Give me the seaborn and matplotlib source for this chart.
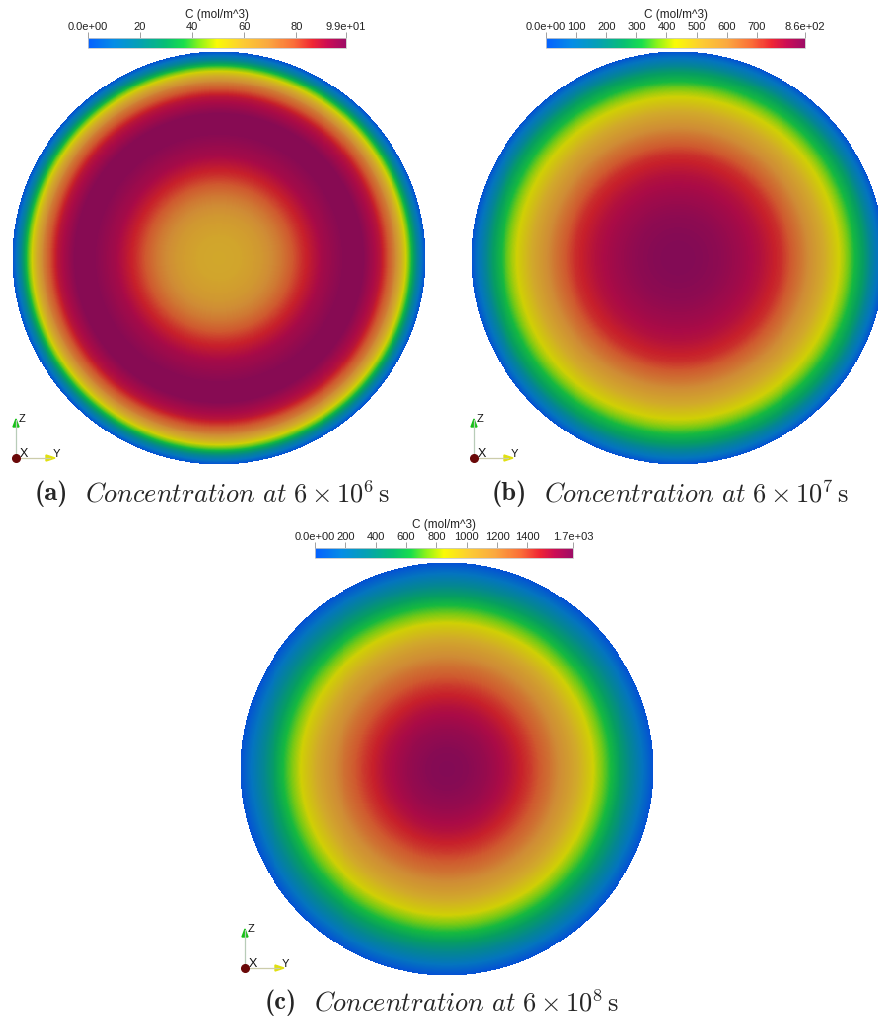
import os
import numpy as np
import pandas as pd
import matplotlib
matplotlib.use("Agg")
import matplotlib.pyplot as plt
import seaborn as sns
from matplotlib.colors import LinearSegmentedColormap, Normalize
from matplotlib.font_manager import FontProperties
import matplotlib.colorbar as mcolorbar

sns.set_theme(style="white")
plt.rcParams['font.family'] = ['Liberation Sans', 'DejaVu Sans']
plt.rcParams['mathtext.fontset'] = 'cm'

# ---- data: radial concentration profiles (r normalised 0 centre .. 1 rim) ----
r_a = [0.0, 0.1, 0.2, 0.3, 0.4, 0.5, 0.6, 0.7, 0.78, 0.85, 0.9, 0.93, 0.96, 0.98, 1.0]
c_a = [60, 61, 65, 73, 84, 93, 98, 98, 89, 72, 52, 38, 20, 10, 0]

r_b = [0.0, 0.1, 0.2, 0.3, 0.4, 0.5, 0.6, 0.7, 0.8, 0.85, 0.9, 0.95, 0.98, 1.0]
c_b = [860, 856, 843, 817, 783, 731, 636, 525, 404, 327, 249, 129, 60, 0]

r_c = [0.0, 0.1, 0.2, 0.3, 0.4, 0.5, 0.6, 0.7, 0.8, 0.9, 1.0]
c_c = [1700, 1683, 1632, 1547, 1428, 1275, 1088, 867, 612, 323, 0]

vmax = [99, 860, 1700]
ticks_a = [0, 20, 40, 60, 80, 99]
labels_a = ["0.0e+00", "20", "40", "60", "80", "9.9e+01"]
ticks_b = [0, 100, 200, 300, 400, 500, 600, 700, 860]
labels_b = ["0.0e+00", "100", "200", "300", "400", "500", "600", "700", "8.6e+02"]
ticks_c = [0, 200, 400, 600, 800, 1000, 1200, 1400, 1700]
labels_c = ["0.0e+00", "200", "400", "600", "800", "1000", "1200", "1400", "1.7e+03"]
cap_tags = ["(a)", "(b)", "(c)"]
cap_texts = [r"$\mathit{Concentration\ at}\ 6\times10^{6}\,\mathrm{s}$",
             r"$\mathit{Concentration\ at}\ 6\times10^{7}\,\mathrm{s}$",
             r"$\mathit{Concentration\ at}\ 6\times10^{8}\,\mathrm{s}$"]

# ---- colormap (ParaView-like rainbow) ----
stops = [0.0, 0.10, 0.20, 0.30, 0.37, 0.43, 0.50, 0.60, 0.70, 0.80, 0.87, 0.93, 1.0]
cols = [(0.02, 0.38, 1.0), (0.02, 0.55, 0.90), (0.02, 0.63, 0.70), (0.03, 0.75, 0.45),
        (0.10, 0.87, 0.30), (0.55, 0.95, 0.10), (0.98, 0.98, 0.02), (0.99, 0.80, 0.20),
        (0.98, 0.66, 0.25), (0.98, 0.42, 0.22), (0.94, 0.15, 0.20), (0.80, 0.05, 0.33),
        (0.62, 0.05, 0.40)]
cmap_bar = LinearSegmentedColormap.from_list("pv", list(zip(stops, cols)))
shade = 0.83
cmap_disk = LinearSegmentedColormap.from_list(
    "pvs", list(zip(stops, [tuple(shade * v for v in c) for c in cols])))

W, H = 879, 1023
fig = plt.figure(figsize=(W / 100, H / 100), dpi=100)


def rect(x, y, w, h):
    return [x / W, 1 - (y + h) / H, w / W, h / H]


N = 420
g = np.linspace(-1, 1, N)
XX, YY = np.meshgrid(g, g)
RR = np.sqrt(XX ** 2 + YY ** 2)

panels = [
    dict(r=r_a, c=c_a, vmax=vmax[0], cx=219, cy=258, rad=207, bar=(88, 38, 258, 10),
         ticks=ticks_a, labels=labels_a, capxy=(212, 494), triad=(16, 458)),
    dict(r=r_b, c=c_b, vmax=vmax[1], cx=678, cy=258, rad=207, bar=(546, 38, 259, 10),
         ticks=ticks_b, labels=labels_b, capxy=(670, 494), triad=(474, 458)),
    dict(r=r_c, c=c_c, vmax=vmax[2], cx=447, cy=769, rad=207, bar=(315, 548, 258, 10),
         ticks=ticks_c, labels=labels_c, capxy=(442, 1003), triad=(245, 968)),
]

bold_fp = FontProperties(fname=os.path.join(matplotlib.get_data_path(), "fonts", "ttf", "cmb10.ttf"),
                         size=19)
renderer = fig.canvas.get_renderer()

for i, p in enumerate(panels):
    field = np.interp(RR, p["r"], p["c"])
    df = pd.DataFrame(field)
    mask = RR > 1.0
    ax = fig.add_axes(rect(p["cx"] - p["rad"], p["cy"] - p["rad"], 2 * p["rad"], 2 * p["rad"]))
    sns.heatmap(df, mask=mask, cmap=cmap_disk, vmin=0, vmax=p["vmax"], cbar=False,
                xticklabels=False, yticklabels=False, ax=ax, rasterized=True)
    ax.axis("off")

    bx, by, bw, bh = p["bar"]
    cax = fig.add_axes(rect(bx, by, bw, bh))
    cb = mcolorbar.ColorbarBase(cax, cmap=cmap_bar, norm=Normalize(0, p["vmax"]),
                                orientation="horizontal")
    cb.set_ticks(p["ticks"])
    cb.set_ticklabels(p["labels"])
    cax.xaxis.set_ticks_position("top")
    cax.xaxis.set_label_position("top")
    cax.tick_params(axis="x", direction="out", length=4, width=0.6, color="#909090",
                    labelsize=8, pad=0.5, labelcolor="#222222")
    cb.outline.set_edgecolor("#c8c8c8")
    cb.outline.set_linewidth(0.6)
    cax.set_xlabel("C (mol/m^3)", fontsize=8.5, labelpad=2.5, color="#222222")

    # caption: bold tag + math text, centred as a group
    cx, cy = p["capxy"]
    t1 = fig.text(0, 1 - cy / H, cap_tags[i], fontproperties=bold_fp, ha="left", va="center")
    t2 = fig.text(0, 1 - cy / H, cap_texts[i], fontsize=19, ha="left", va="center")
    w1 = t1.get_window_extent(renderer).width
    w2 = t2.get_window_extent(renderer).width
    gap = 17
    total = w1 + gap + w2
    x0 = cx - total / 2
    t1.set_x(x0 / W)
    t2.set_x((x0 + w1 + gap) / W)

# orientation triads
ov = fig.add_axes([0, 0, 1, 1], facecolor="none")
ov.set_xlim(0, W)
ov.set_ylim(H, 0)
ov.axis("off")
for p in panels:
    ox, oy = p["triad"]
    ov.plot([ox, ox], [oy, oy - 38], color="#b8ccb8", lw=0.9)
    ov.plot([ox, ox + 34], [oy, oy], color="#ccccaa", lw=0.9)
    ov.add_patch(plt.Polygon([[ox - 3, oy - 31], [ox + 3, oy - 31], [ox, oy - 39]],
                             color="#18c018"))
    ov.add_patch(plt.Polygon([[ox + 30, oy - 3], [ox + 30, oy + 3], [ox + 39, oy]],
                             color="#e0e010"))
    ov.plot([ox], [oy], "o", color="#6a0808", ms=5.5)
    ov.text(ox + 3, oy - 39, "Z", fontsize=8, ha="left", va="center", color="#111111")
    ov.text(ox + 37, oy - 4, "Y", fontsize=8, ha="left", va="center", color="#111111")
    ov.text(ox + 4, oy - 4, "X", fontsize=9, ha="left", va="center", color="#111111")

fig.savefig("out.png", dpi=100)
